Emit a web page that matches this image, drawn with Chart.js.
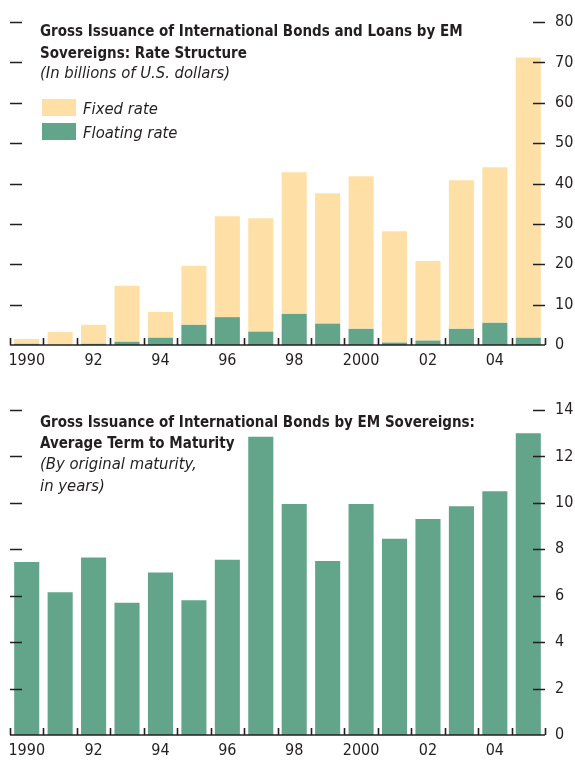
<!DOCTYPE html>
<html>
<head>
<meta charset="utf-8">
<script src="https://cdn.jsdelivr.net/npm/chart.js@4.4.0/dist/chart.umd.min.js"></script>
<style>
  body { margin: 0; background: #fff; }
  #page { position: relative; width: 575px; height: 760px; overflow: hidden;
          font-family: "DejaVu Sans Condensed", "Liberation Sans", sans-serif; color: #231f20; }
  canvas { position: absolute; left: 0; }
  .t { position: absolute; left: 40px; line-height: 17px; white-space: nowrap; }
  .b { font-weight: bold; font-size: 15px; }
  .i { font-style: italic; font-size: 16.5px; }
  .sw { position: absolute; left: 42px; width: 34px; height: 17px; }
</style>
</head>
<body>
<div id="page">
  <canvas id="rateChart" width="575" height="380" style="top:0"></canvas>
  <canvas id="termChart" width="575" height="380" style="top:380px"></canvas>

  <div class="t b" style="top:23px">Gross Issuance of International Bonds and Loans by EM</div>
  <div class="t b" style="top:45px">Sovereigns: Rate Structure</div>
  <div class="t i" style="top:64px">(In billions of U.S. dollars)</div>
  <div class="sw" style="top:99px;background:#fee0a7"></div>
  <div class="t i" style="top:100px;left:83px">Fixed rate</div>
  <div class="sw" style="top:123px;background:#62a58a"></div>
  <div class="t i" style="top:124px;left:83px">Floating rate</div>

  <div class="t b" style="top:414px">Gross Issuance of International Bonds by EM Sovereigns:</div>
  <div class="t b" style="top:435px">Average Term to Maturity</div>
  <div class="t i" style="top:455px">(By original maturity,</div>
  <div class="t i" style="top:477px">in years)</div>
</div>

<script>
// ---- data ----
const years = ['1990', '1991', '1992', '1993', '1994', '1995', '1996', '1997',
               '1998', '1999', '2000', '2001', '2002', '2003', '2004', '2005'];
const yearTickLabels = ['1990', '', '92', '', '94', '', '96', '', '98', '', '2000', '', '02', '', '04', ''];

// billions of U.S. dollars
const floatingRate = [0.3, 0, 0.3, 0.8, 1.8, 5.0, 6.9, 3.3, 7.7, 5.3, 4.0, 0.6, 1.1, 4.0, 5.5, 1.8];
const fixedRate    = [1.2, 3.2, 4.7, 13.9, 6.4, 14.6, 25.0, 28.1, 35.1, 32.3, 37.8, 27.6, 19.7, 36.8, 38.5, 69.4];

// average term to maturity, years
const termToMaturity = [7.45, 6.15, 7.65, 5.7, 7.0, 5.8, 7.55, 12.85, 9.95, 7.5, 9.95, 8.45, 9.3, 9.85, 10.5, 13.0];

const INK = '#231f20';
const FONT = '"DejaVu Sans Condensed", "Liberation Sans", sans-serif';

// small inward dashes on both sides + axis line with upward ticks
const frameTicks = {
  id: 'frameTicks',
  afterDatasetsDraw(chart) {
    const { ctx, chartArea: a, scales: { x, y } } = chart;
    ctx.save();
    ctx.strokeStyle = INK;
    ctx.lineWidth = 1.6;
    y.ticks.forEach(t => {
      if (t.value === 0) return;
      const py = Math.round(y.getPixelForValue(t.value)) + 0.5;
      ctx.beginPath();
      ctx.moveTo(a.left, py); ctx.lineTo(a.left + 12, py);
      ctx.moveTo(a.right - 12, py); ctx.lineTo(a.right, py);
      ctx.stroke();
    });
    ctx.beginPath();
    ctx.moveTo(a.left, a.bottom); ctx.lineTo(a.right, a.bottom);
    ctx.stroke();
    const n = x.ticks.length;
    const w = (a.right - a.left) / n;
    for (let i = 0; i <= n; i++) {
      const px = Math.round(a.left + i * w) + 0.5;
      ctx.beginPath();
      ctx.moveTo(px, a.bottom); ctx.lineTo(px, a.bottom - 7);
      ctx.stroke();
    }
    ctx.restore();
  }
};

function baseOptions(yMax, yStep, xHeight) {
  return {
    responsive: false,
    animation: false,
    layout: { padding: { left: 10, top: 0, right: 0, bottom: 0 } },
    plugins: { legend: { display: false }, tooltip: { enabled: false } },
    scales: {
      x: {
        grid: { display: false, drawTicks: false },
        border: { display: false },
        ticks: {
          autoSkip: false, maxRotation: 0, padding: 6, color: INK,
          font: { family: FONT, size: 16 },
          callback: (v, i) => yearTickLabels[i]
        },
        afterFit: s => { s.height = xHeight; }
      },
      y: {
        position: 'right',
        min: 0, max: yMax,
        grid: { display: false, drawTicks: false },
        border: { display: false },
        ticks: { stepSize: yStep, padding: 10, color: INK, font: { family: FONT, size: 16 } },
        afterFit: s => { s.width = 30; }
      }
    }
  };
}

// ---- top: rate structure ----
const rateOpts = baseOptions(80, 10, 35);
rateOpts.layout.padding.top = 22;
rateOpts.scales.x.stacked = true;
rateOpts.scales.y.stacked = true;
new Chart(document.getElementById('rateChart'), {
  type: 'bar',
  data: {
    labels: years,
    datasets: [
      { label: 'Floating rate', data: floatingRate, backgroundColor: '#62a58a',
        barPercentage: 0.75, categoryPercentage: 1.0 },
      { label: 'Fixed rate', data: fixedRate, backgroundColor: '#fee0a7',
        barPercentage: 0.75, categoryPercentage: 1.0 }
    ]
  },
  options: rateOpts,
  plugins: [frameTicks]
});

// ---- bottom: average term to maturity ----
const termOpts = baseOptions(14, 2, 25);
termOpts.layout.padding.top = 30;
new Chart(document.getElementById('termChart'), {
  type: 'bar',
  data: {
    labels: years,
    datasets: [
      { label: 'Average term to maturity', data: termToMaturity, backgroundColor: '#62a58a',
        barPercentage: 0.75, categoryPercentage: 1.0 }
    ]
  },
  options: termOpts,
  plugins: [frameTicks]
});
</script>
</body>
</html>
